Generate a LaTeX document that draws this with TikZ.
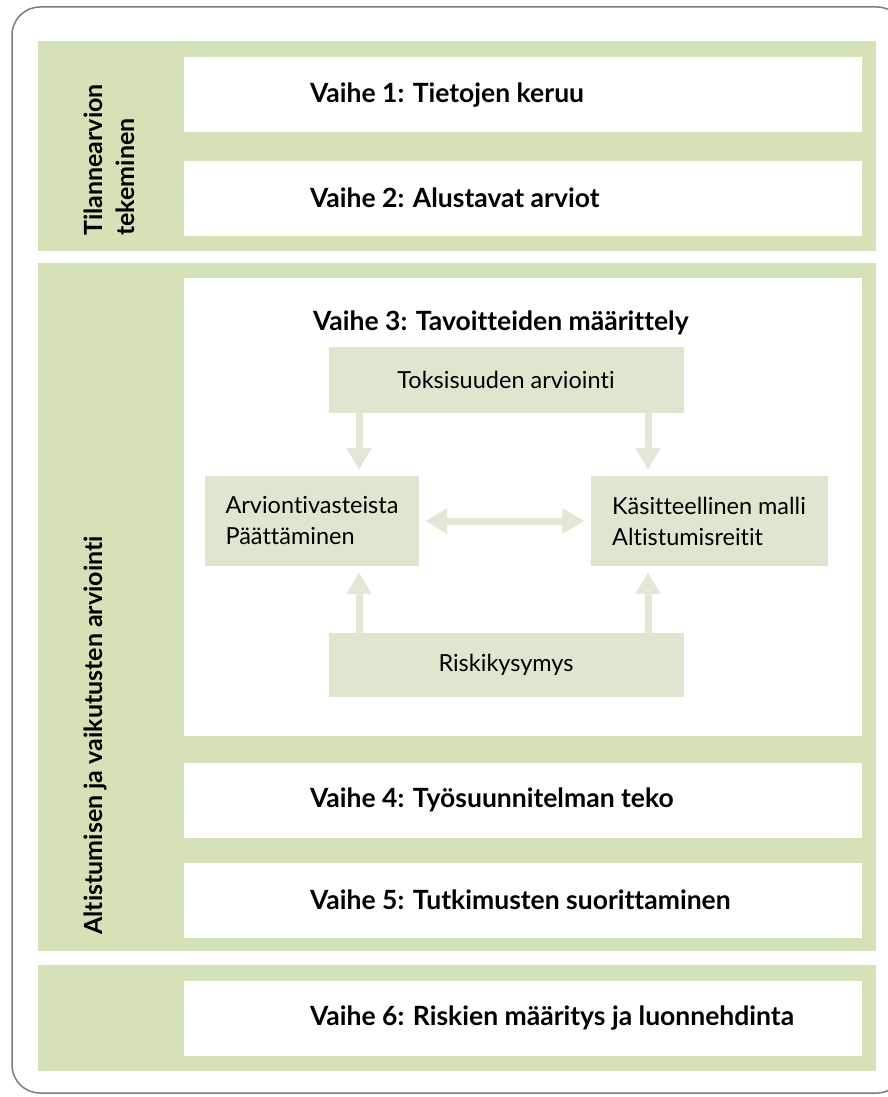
\documentclass[tikz,border=0pt]{standalone}
\usepackage{fontspec}
\setmainfont{Lato}[Ligatures=NoCommon]
\usetikzlibrary{positioning,arrows.meta}

\definecolor{bandgreen}{RGB}{213,225,183}
\definecolor{boxgreen}{RGB}{223,230,207}
\definecolor{arrowgreen}{RGB}{226,232,213}
\definecolor{framegrey}{RGB}{125,125,125}

\begin{document}
\begin{tikzpicture}[x=1pt, y=-1pt
	, stagebox/.style={rectangle, fill=white, minimum width=678pt, minimum height=75pt, inner sep=0}
	, title/.style={inner sep=0, anchor=west, font=\bfseries\fontsize{26.5}{30}\selectfont}
	, sidelabel/.style={inner sep=0, rotate=90, anchor=west, align=left, font=\bfseries\fontsize{25}{32}\selectfont}
	, goalbox/.style={rectangle, fill=boxgreen, align=left, inner sep=0, font=\fontsize{23.5}{31}\selectfont}
	, flow/.style={draw=arrowgreen, line width=7pt, -{Triangle[width=24pt,length=22pt]}, shorten >=6pt}
	, flowboth/.style={flow, {Triangle[width=24pt,length=22pt]}-{Triangle[width=24pt,length=22pt]}, shorten <=6pt}
]
\useasboundingbox (0,0) rectangle (888,1097);

% frame and green bands
\draw[framegrey, line width=1.5pt, rounded corners=28pt] (12,7) rectangle (905,1093);
\fill[bandgreen] (38,41) rectangle (876,251);
\fill[bandgreen] (38,263) rectangle (876,951);
\fill[bandgreen] (38,965) rectangle (876,1071);

\node[sidelabel] (l1) at (109,236) {Tilannearvion\\tekeminen};
\node[sidelabel] (l2) at (95,935) {Altistumisen ja vaikutusten arviointi};

% stages
\foreach \n/\y/\name in {
	1/95/{Vaihe 1: Tietojen keruu}
	, 2/198/{Vaihe 2: Alustavat arviot}
	, 4/800/{Vaihe 4: Työsuunnitelman teko}
	, 5/900/{Vaihe 5: Tutkimusten suorittaminen}
	, 6/1018/{Vaihe 6: Riskien määritys ja luonnehdinta}
}{
	\node[stagebox] (s\n) at (523,\y) {};
	\node[title] (t\n) at ([xshift=126pt]s\n.west) {\name};
}

\node[stagebox, minimum height=458pt] (s3) at (523,507) {};
\node[title] (t3) at ([xshift=129pt, yshift=-45pt]s3.north west) {Vaihe 3: Tavoitteiden määrittely};

% goals of stage 3
\node[goalbox, minimum width=355pt, minimum height=66pt] (tox) at (506,380) {Toksisuuden arviointi};
\node[goalbox, minimum width=214pt, minimum height=90pt] (arv) at (312,521) {Arviontivasteista\\Päättäminen};
\node[goalbox, minimum width=237pt, minimum height=90pt] (kas) at (709,521) {Käsitteellinen malli\\Altistumisreitit};
\node[goalbox, minimum width=355pt, minimum height=64pt] (risk) at (506,665) {Riskikysymys};

\draw[flow] ([xshift=-147pt]tox.south) -- ([xshift=-147pt]tox.south |- arv.north);
\draw[flow] ([xshift=142pt]tox.south) -- ([xshift=142pt]tox.south |- kas.north);
\draw[flow] ([xshift=-147pt]risk.north) -- ([xshift=-147pt]risk.north |- arv.south);
\draw[flow] ([xshift=142pt]risk.north) -- ([xshift=142pt]risk.north |- kas.south);
\draw[flowboth] (arv.east) -- (kas.west);

\end{tikzpicture}
\end{document}
